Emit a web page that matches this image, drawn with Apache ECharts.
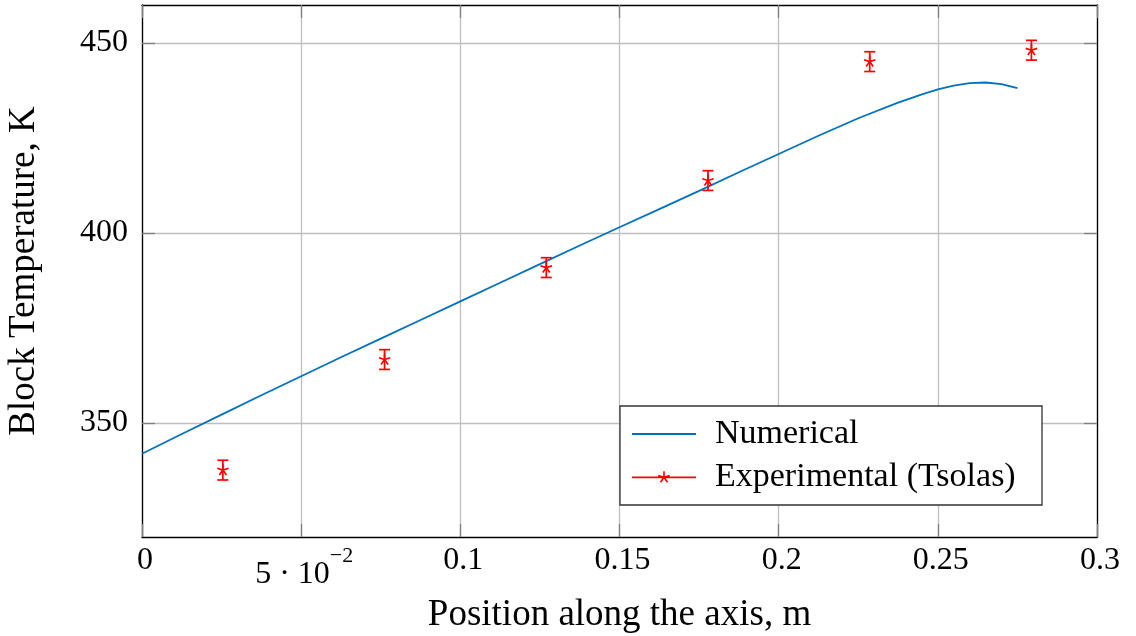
<!DOCTYPE html>
<html><head><meta charset="utf-8">
<script src="https://cdn.jsdelivr.net/npm/echarts@6/dist/echarts.min.js"></script>
<style>html,body{margin:0;padding:0;background:#fff}#c{width:1136px;height:636px}</style>
</head><body><div id="c"></div>
<script>
// ---- data ----
const numX = [0, 0.0125, 0.025, 0.0375, 0.05, 0.0625, 0.075, 0.0875, 0.1, 0.1125, 0.125, 0.1375, 0.15, 0.1625, 0.175, 0.1875, 0.2, 0.2125, 0.225, 0.2375, 0.245, 0.25, 0.255, 0.26, 0.265, 0.27, 0.275];
const numY = [341.9, 347.1, 352.2, 357.3, 362.3, 367.3, 372.2, 377.1, 382.0, 386.9, 391.8, 396.7, 401.5, 406.3, 411.1, 416.0, 420.8, 425.6, 430.2, 434.3, 436.5, 437.8, 438.8, 439.45, 439.6, 439.2, 438.1];
const expX = [0.0254, 0.0762, 0.127, 0.1778, 0.2286, 0.2794];
const expY = [337.6, 366.7, 390.9, 413.8, 445.1, 448.1];
const expErr = [2.6, 2.6, 2.6, 2.6, 2.6, 2.6];
const xTicks = [0, 0.05, 0.1, 0.15, 0.2, 0.25, 0.3];
const xTickLabels = ['0', '5 · 10^−2', '0.1', '0.15', '0.2', '0.25', '0.3'];
const yTicks = [350, 400, 450];
const yTickLabels = ['350', '400', '450'];
const seriesNames = ['Numerical', 'Experimental (Tsolas)'];
const xName = 'Position along the axis, m';
const yName = 'Block Temperature, K';

// ---- styling ----
const FONT = "'Liberation Serif', 'DejaVu Serif', serif";
const FS_TICK = 32, FS_LEG = 34, FS_NAME = 37;
const BLUE = '#0072BD', RED = '#ff0000';
const GRIDC = '#bfbfbf', TICKC = '#808080';

function fmtX(v) {
  const i = xTicks.findIndex(t => Math.abs(t - v) < 1e-9);
  const s = i >= 0 ? xTickLabels[i] : String(v);
  if (s.indexOf('^') >= 0) {
    const p = s.split('^');
    return '{a|' + p[0] + '}{b|' + p[1] + '}';
  }
  return s;
}
function fmtY(v) {
  const i = yTicks.findIndex(t => Math.abs(t - v) < 1e-9);
  return i >= 0 ? yTickLabels[i] : String(v);
}

// legend icons
function rectPath(x0, y0, ang, len, w) {
  const dx = Math.cos(ang), dy = Math.sin(ang), nx = dy, ny = -dx;
  const pts = [
    [x0 + nx * w, y0 + ny * w],
    [x0 + dx * len + nx * w, y0 + dy * len + ny * w],
    [x0 + dx * len - nx * w, y0 + dy * len - ny * w],
    [x0 - nx * w, y0 - ny * w]
  ];
  return 'M' + pts.map(p => p[0].toFixed(3) + ',' + p[1].toFixed(3)).join(' L') + ' Z ';
}
const lineIcon = 'path://' + rectPath(0, 0, 0, 64, 0.9);
let starIcon = 'path://' + rectPath(0, 0, 0, 64, 0.9);
for (let k = 0; k < 5; k++) starIcon += rectPath(32, 0, -Math.PI / 2 + k * 2 * Math.PI / 5, 6, 0.8);

const expData = expX.map((x, i) => [x, expY[i], expErr[i]]);
const numData = numX.map((x, i) => [x, numY[i]]);

function renderErr(params, api) {
  const x = api.value(0), y = api.value(1), e = api.value(2);
  const c = api.coord([x, y]);
  const t = api.coord([x, y + e]);
  const b = api.coord([x, y - e]);
  const cap = 5.5, r = 6;
  const style = { stroke: RED, lineWidth: 1.7, fill: null };
  const children = [
    { type: 'line', shape: { x1: t[0], y1: t[1], x2: b[0], y2: b[1] }, style },
    { type: 'line', shape: { x1: t[0] - cap, y1: t[1], x2: t[0] + cap, y2: t[1] }, style },
    { type: 'line', shape: { x1: b[0] - cap, y1: b[1], x2: b[0] + cap, y2: b[1] }, style }
  ];
  for (let k = 0; k < 5; k++) {
    const a = -Math.PI / 2 + k * 2 * Math.PI / 5;
    children.push({ type: 'line', shape: { x1: c[0], y1: c[1], x2: c[0] + r * Math.cos(a), y2: c[1] + r * Math.sin(a) }, style });
  }
  return { type: 'group', children };
}

const axisLineStyle = { color: '#000', width: 1.3 };
const tickStyle = { color: TICKC, width: 1.3 };

const chart = echarts.init(document.getElementById('c'), null, { renderer: 'canvas' });
chart.setOption({
  backgroundColor: '#fff',
  animation: false,
  grid: { left: 142, right: 39, top: 5, bottom: 99, containLabel: false, outerBoundsMode: 'none' },
  legend: {
    orient: 'vertical', left: 620, top: 406,
    padding: [11, 24, 11, 12], itemGap: 9, itemWidth: 64, itemHeight: 14,
    backgroundColor: '#fff', borderColor: '#333', borderWidth: 1.3, borderRadius: 0,
    symbolKeepAspect: true,
    itemStyle: { borderWidth: 0 },
    textStyle: { fontFamily: FONT, fontSize: FS_LEG, color: '#000', lineHeight: FS_LEG, padding: [0, 0, 0, 14], width: 303 },
    data: [
      { name: seriesNames[0], icon: lineIcon, itemStyle: { color: BLUE } },
      { name: seriesNames[1], icon: starIcon, itemStyle: { color: RED } }
    ]
  },
  xAxis: [{
    type: 'value', min: 0, max: 0.3, interval: 0.05, position: 'bottom',
    name: xName, nameLocation: 'middle', nameGap: 60, nameMoveOverlap: false,
    nameTextStyle: { fontFamily: FONT, fontSize: FS_NAME, color: '#000', lineHeight: FS_NAME },
    axisLine: { show: true, onZero: false, lineStyle: axisLineStyle },
    axisTick: { show: true, inside: true, length: 13, lineStyle: tickStyle, customValues: xTicks },
    axisLabel: {
      show: true, margin: 8, customValues: xTicks, formatter: fmtX,
      fontFamily: FONT, fontSize: FS_TICK, color: '#000', lineHeight: FS_TICK, padding: [0, 0, 0, 6],
      rich: {
        a: { fontFamily: FONT, fontSize: FS_TICK, color: '#000', lineHeight: FS_TICK + 28, verticalAlign: 'middle' },
        b: { fontFamily: FONT, fontSize: 22, color: '#000', lineHeight: 24, verticalAlign: 'top' }
      }
    },
    splitLine: { show: true, lineStyle: { color: GRIDC, width: 1.3 } }
  }, {
    type: 'value', min: 0, max: 0.3, interval: 0.05, position: 'top',
    axisLine: { show: true, onZero: false, lineStyle: axisLineStyle },
    axisTick: { show: true, inside: true, length: 13, lineStyle: tickStyle, customValues: xTicks },
    axisLabel: { show: false }, splitLine: { show: false }
  }],
  yAxis: [{
    type: 'value', min: 320, max: 460, position: 'left',
    name: yName, nameLocation: 'middle', nameGap: 99, nameRotate: 90, nameMoveOverlap: false,
    nameTextStyle: { fontFamily: FONT, fontSize: FS_NAME, color: '#000', lineHeight: FS_NAME },
    axisLine: { show: true, onZero: false, lineStyle: axisLineStyle },
    axisTick: { show: true, inside: true, length: 13, lineStyle: tickStyle, customValues: yTicks },
    axisLabel: { show: true, margin: 14, customValues: yTicks, formatter: fmtY, fontFamily: FONT, fontSize: FS_TICK, color: '#000' },
    splitLine: { show: true, lineStyle: { color: GRIDC, width: 1.3 } }
  }, {
    type: 'value', min: 320, max: 460, position: 'right',
    axisLine: { show: true, onZero: false, lineStyle: axisLineStyle },
    axisTick: { show: true, inside: true, length: 13, lineStyle: tickStyle, customValues: yTicks },
    axisLabel: { show: false }, splitLine: { show: false }
  }],
  series: [{
    name: seriesNames[0], type: 'line', data: numData, xAxisIndex: 0, yAxisIndex: 0,
    smooth: false, showSymbol: false, symbol: 'none',
    lineStyle: { color: BLUE, width: 1.8 }, itemStyle: { color: BLUE }, z: 3
  }, {
    name: seriesNames[1], type: 'custom', data: expData, xAxisIndex: 0, yAxisIndex: 0,
    encode: { x: 0, y: 1 }, renderItem: renderErr, itemStyle: { color: RED }, z: 4
  }]
});
</script>
</body></html>
